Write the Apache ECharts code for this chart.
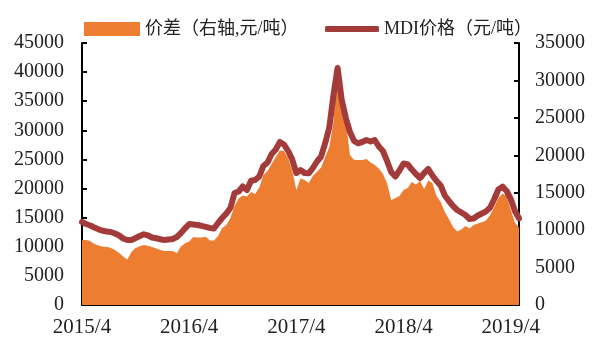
<!DOCTYPE html>
<html>
<head>
<meta charset="utf-8">
<script src="https://cdn.jsdelivr.net/npm/echarts@6/dist/echarts.min.js"></script>
<style>
  html, body { margin: 0; padding: 0; background: #ffffff; }
  #chart { width: 592px; height: 338px; }
</style>
</head>
<body>
<div id="chart"></div>
<script>
// Bi-weekly observations, first one on 2015/4/10
const startDate = new Date(2015, 3, 10);
const pointCount = 107;

// Year labels shown every 26 points (one year)
const tickLabels = ['2015/4', '2016/4', '2017/4', '2018/4', '2019/4'];
const tickStep = 26;

// MDI price, yuan per tonne (left axis)
const mdiPrice = [
  14260, 13910, 13660, 13310, 13000, 12750, 12620, 12540, 12280, 11940,
  11420, 11160, 11160, 11510, 11850, 12140, 11940, 11590, 11460, 11300,
  11160, 11250, 11340, 11680, 12370, 13170, 13910, 13830, 13740, 13600,
  13430, 13230, 13140, 14080, 14940, 15720, 16660, 19240, 19500, 20350,
  19750, 21330, 21470, 22070, 23880, 24480, 25940, 26710, 28000, 27570,
  26450, 24990, 22670, 23190, 22670, 22620, 23530, 24650, 25510, 27830,
  30570, 36070, 40710, 35210, 32120, 29710, 28170, 27770, 28000, 28340,
  28080, 28340, 27220, 26450, 24730, 22840, 22070, 23100, 24300, 24130,
  23270, 22500, 21810, 22670, 23360, 22240, 21300, 20530, 18810, 17860,
  17000, 16320, 15890, 15460, 14770, 14860, 15370, 15720, 16090, 16750,
  18210, 19840, 20320, 19580, 18210, 16150, 14890
];

// Price spread, yuan per tonne (right axis)
const spread = [
  8680, 8680, 8550, 8150, 7950, 7790, 7790, 7620, 7350, 6950,
  6480, 6080, 7080, 7620, 7840, 8020, 7910, 7750, 7550, 7350,
  7210, 7210, 7210, 6910, 7820, 8240, 8480, 9090, 9020, 9020,
  9110, 8620, 8620, 9220, 10290, 10690, 11620, 13230, 14230, 14630,
  14500, 15100, 14830, 15700, 17370, 17900, 18840, 19770, 20640, 20570,
  19640, 17970, 15360, 16900, 16700, 16300, 17230, 17810, 18370, 19770,
  21110, 24450, 32330, 25850, 24580, 20040, 19370, 19370, 19370, 19510,
  19040, 18700, 18240, 17500, 16260, 14030, 14260, 14560, 15360, 15630,
  16430, 16100, 16570, 15500, 16630, 16300, 14560, 13760, 12430, 11490,
  10420, 9820, 10090, 10550, 10220, 10690, 10890, 11050, 11290, 12020,
  13090, 14300, 14900, 14560, 12690, 11020, 10350
];

const spreadName = '价差（右轴,元/吨）';
const mdiName = 'MDI价格（元/吨）';

const dates = [];
for (let i = 0; i < pointCount; i++) {
  const d = new Date(startDate.getTime());
  d.setDate(d.getDate() + 14 * i);
  dates.push(d.getFullYear() + '/' + (d.getMonth() + 1) + '/' + d.getDate());
}

const numFont = 'Liberation Serif, Noto Sans CJK SC, serif';
const cjkFont = 'Liberation Serif, Noto Sans CJK SC, serif';
const ORANGE = '#ED7D31';
const RED = '#A43B3B';
const plainNumber = function (v) { return String(v); };

const chart = echarts.init(document.getElementById('chart'), null, { renderer: 'canvas' });

chart.setOption({
  animation: false,
  backgroundColor: '#ffffff',
  grid: { left: 82, right: 73, top: 43, bottom: 33, containLabel: false },
  legend: [
    {
      data: [{ name: spreadName, icon: 'rect' }],
      left: 79, top: 15,
      itemWidth: 56, itemHeight: 14, itemGap: 10,
      textStyle: { fontFamily: cjkFont, fontSize: 18, color: '#222' },
      selectedMode: false
    },
    {
      data: [{ name: mdiName, icon: 'roundRect' }],
      left: 320, top: 15,
      itemWidth: 54, itemHeight: 6,
      textStyle: { fontFamily: cjkFont, fontSize: 18, color: '#222' },
      selectedMode: false
    }
  ],
  xAxis: {
    type: 'category',
    data: dates,
    boundaryGap: false,
    axisLine: { lineStyle: { color: '#000', width: 2 } },
    axisTick: {
      inside: true, length: 5, lineStyle: { color: '#000', width: 2 },
      interval: function (idx) { return idx % tickStep === 0 && idx > 0; }
    },
    axisLabel: {
      interval: function (idx) { return idx % tickStep === 0; },
      formatter: function (val, idx) { return tickLabels[Math.round(idx / tickStep)]; },
      fontFamily: numFont, fontSize: 21, color: '#222', margin: 12,
      hideOverlap: false
    },
    splitLine: { show: false }
  },
  yAxis: [
    {
      type: 'value', min: 0, max: 45000, interval: 5000, position: 'left',
      axisLine: { show: true, lineStyle: { color: '#000', width: 2 } },
      axisTick: { show: true, inside: true, length: 5, lineStyle: { color: '#000', width: 2 } },
      axisLabel: { fontFamily: numFont, fontSize: 20, color: '#222', margin: 18, formatter: plainNumber },
      splitLine: { show: false }
    },
    {
      type: 'value', min: 0, max: 35000, interval: 5000, position: 'right',
      axisLine: { show: true, lineStyle: { color: '#000', width: 2 } },
      axisTick: { show: true, inside: true, length: 5, lineStyle: { color: '#000', width: 2 } },
      axisLabel: { fontFamily: numFont, fontSize: 20, color: '#222', margin: 16, formatter: plainNumber },
      splitLine: { show: false }
    }
  ],
  series: [
    {
      name: spreadName,
      type: 'line',
      yAxisIndex: 1,
      data: spread,
      symbol: 'none',
      color: ORANGE,
      lineStyle: { width: 0 },
      areaStyle: { color: ORANGE, opacity: 1 },
      z: 2
    },
    {
      name: mdiName,
      type: 'line',
      yAxisIndex: 0,
      data: mdiPrice,
      symbol: 'none',
      color: RED,
      lineStyle: { width: 6, color: RED, cap: 'round', join: 'round' },
      z: 3
    }
  ]
});
</script>
</body>
</html>
